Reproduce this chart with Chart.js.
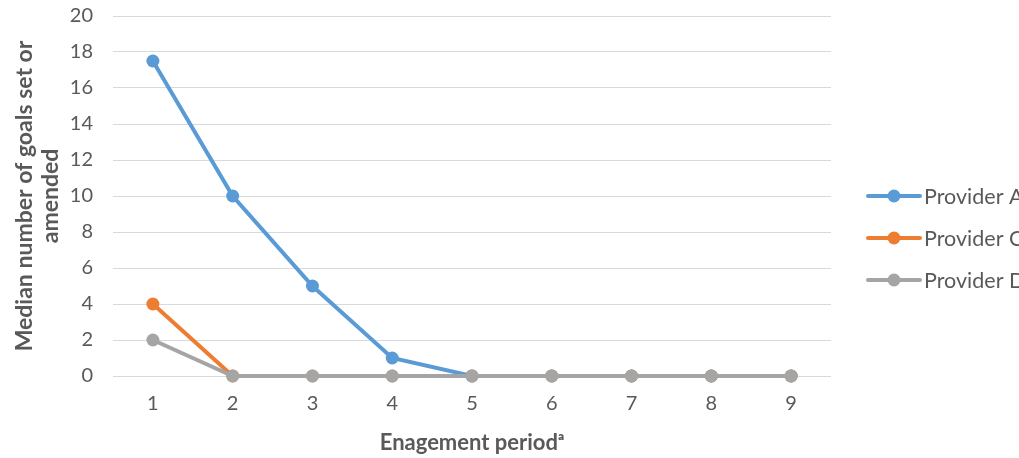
<!DOCTYPE html>
<html><head><meta charset="utf-8">
<script src="https://cdn.jsdelivr.net/npm/chart.js@4/dist/chart.umd.min.js"></script>
<style>html,body{margin:0;padding:0;background:#fff;overflow:hidden}#wrap{width:1019px;height:458px;position:relative}</style>
</head><body><div id="wrap"><canvas id="c" width="1019" height="458"></canvas></div>
<script>
const categories = ['1','2','3','4','5','6','7','8','9'];
const providerA = [17.5, 10, 5, 1, 0, 0, 0, 0, 0];
const providerC = [4, 0, 0, 0, 0, 0, 0, 0, 0];
const providerD = [2, 0, 0, 0, 0, 0, 0, 0, 0];
const seriesNames = ['Provider A', 'Provider C', 'Provider D'];
const seriesColors = ['#5B9BD5', '#ED7D31', '#A5A5A5'];
const yTitle = ['Median number of goals set or', 'amended'];
const xTitle = 'Enagement period\u1D43';

const FONT = 'Lato, "Open Sans", "DejaVu Sans", sans-serif';
const TXT = '#595959';

const legendPlugin = {
  id: 'customLegend',
  afterDraw(chart) {
    const ctx = chart.ctx;
    const x0 = chart.chartArea.right + 37;
    const yStart = 196, gap = 42;
    chart.data.datasets.forEach((ds, i) => {
      const y = yStart + i * gap;
      ctx.save();
      ctx.strokeStyle = ds.borderColor;
      ctx.lineWidth = 4;
      ctx.lineCap = 'round';
      ctx.beginPath(); ctx.moveTo(x0, y); ctx.lineTo(x0 + 52, y); ctx.stroke();
      ctx.fillStyle = ds.borderColor;
      ctx.beginPath(); ctx.arc(x0 + 26, y, 6.5, 0, Math.PI * 2); ctx.fill();
      ctx.fillStyle = TXT;
      ctx.font = '21.5px ' + FONT;
      ctx.textBaseline = 'middle';
      ctx.textAlign = 'left';
      ctx.fillText(ds.label, x0 + 56, y + 1);
      ctx.restore();
    });
  }
};

const mk = (label, data, color, order) => ({
  label, data, borderColor: color, backgroundColor: color, order,
  borderWidth: 4, pointRadius: 6.5, pointHoverRadius: 6.5,
  pointBorderWidth: 0, tension: 0, clip: false
});

new Chart(document.getElementById('c'), {
  type: 'line',
  data: {
    labels: categories,
    datasets: [
      mk(seriesNames[0], providerA, seriesColors[0], 3),
      mk(seriesNames[1], providerC, seriesColors[1], 2),
      mk(seriesNames[2], providerD, seriesColors[2], 1)
    ]
  },
  options: {
    responsive: false,
    animation: false,
    events: [],
    layout: { padding: { top: 16, right: 188, bottom: 0, left: 12 } },
    plugins: { legend: { display: false }, tooltip: { enabled: false } },
    scales: {
      x: {
        offset: true,
        afterFit: s => { s.height = 82; s.paddingLeft = 0; s.paddingRight = 0; },
        grid: { display: false, drawTicks: false },
        border: { display: false },
        ticks: { color: TXT, font: { family: FONT, size: 20 }, padding: 16 },
        title: { display: true, text: xTitle, color: TXT, font: { family: FONT, size: 22, weight: 'bold' }, padding: { top: 0, bottom: 2 } }
      },
      y: {
        min: 0, max: 20,
        afterFit: s => { s.width = 101; s.paddingTop = 0; s.paddingBottom = 0; },
        ticks: { stepSize: 2, color: TXT, font: { family: FONT, size: 20 }, padding: 20 },
        grid: { color: '#D9D9D9', lineWidth: 1, drawTicks: false },
        border: { display: false },
        title: { display: true, text: yTitle, color: TXT, font: { family: FONT, size: 23, weight: 'bold', lineHeight: 1.12 }, padding: { top: 0, bottom: 0 } }
      }
    }
  },
  plugins: [legendPlugin]
});
</script></body></html>
